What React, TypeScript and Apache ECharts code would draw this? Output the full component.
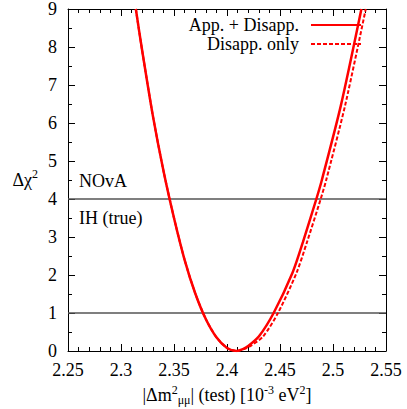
import React, { useEffect, useRef } from "react";
import * as echarts from "echarts";

// Data
const appX = [2.314, 2.32, 2.33, 2.34, 2.35, 2.36, 2.37, 2.38, 2.39, 2.4, 2.409, 2.415, 2.42, 2.43, 2.444, 2.4617, 2.4717, 2.4843, 2.4895, 2.5075, 2.5268];
const appY = [9.0, 7.9, 6.2, 4.75, 3.5, 2.4, 1.52, 0.84, 0.36, 0.08, 0.0, 0.05, 0.13, 0.38, 1.0, 2.05, 2.87, 4.0, 4.5, 6.47, 9.0];
const disX = [2.314, 2.32, 2.33, 2.34, 2.35, 2.36, 2.37, 2.38, 2.39, 2.4, 2.409, 2.416, 2.422, 2.434, 2.4481, 2.4655, 2.4755, 2.4884, 2.4936, 2.5115, 2.5309];
const disY = [9.0, 7.9, 6.2, 4.75, 3.5, 2.4, 1.52, 0.84, 0.36, 0.08, 0.0, 0.05, 0.13, 0.38, 1.0, 2.05, 2.87, 4.0, 4.5, 6.47, 9.0];
const refLines = [1, 4];
const seriesNames = ["App. + Disapp.", "Disapp. only"];
const xRange = [2.25, 2.55];
const yRange = [0, 9];
const annotations = ["NOvA", "IH (true)"];

const FONT = "Liberation Serif";

export default function App() {
  const ref = useRef<HTMLDivElement>(null);
  useEffect(() => {
    document.body.style.margin = "0";
    if (!ref.current) return;
    const chart = echarts.init(ref.current, null, { renderer: "svg" });
    const rich = {
      sup: { fontSize: 12, lineHeight: 10, verticalAlign: "top", fontFamily: FONT, color: "#000" },
      sub: { fontSize: 12, lineHeight: 10, verticalAlign: "bottom", fontFamily: FONT, color: "#000" },
    };
    const axisCommon = {
      type: "value",
      axisLine: { show: true, onZero: false, lineStyle: { color: "#000", width: 1 } },
      axisTick: { show: true, inside: true, length: 7, lineStyle: { color: "#000", width: 1 } },
      splitLine: { show: false },
    };
    const xFmt = (v: number) => String(+v.toFixed(2));
    const legendCommon = {
      right: 45,
      padding: 0,
      align: "right",
      itemWidth: 50,
      itemHeight: 14,
      itemStyle: { opacity: 0 },
      textStyle: { fontSize: 18, lineHeight: 16, color: "#000", fontFamily: FONT, padding: [0, 7, 0, 0] },
    };
    const option: any = {
      animation: false,
      textStyle: { fontFamily: FONT },
      grid: { left: 68, right: 21, top: 9, bottom: 58, containLabel: false, outerBoundsMode: "none" },
      xAxis: [
        {
          ...axisCommon,
          position: "bottom",
          min: xRange[0],
          max: xRange[1],
          interval: 0.05,
          minorTick: { show: true, splitNumber: 5, length: 4, lineStyle: { color: "#000" } },
          axisLabel: { color: "#000", fontSize: 18, margin: 10, fontFamily: FONT, formatter: xFmt },
          name: "|Δm{sup|2}{sub|μμ}| (test) [10{sup|-3} eV{sup|2}]",
          nameLocation: "middle",
          nameGap: 32,
          nameTextStyle: { color: "#000", fontSize: 18, fontFamily: FONT, lineHeight: 22, rich },
        },
        {
          ...axisCommon,
          position: "top",
          min: xRange[0],
          max: xRange[1],
          interval: 0.05,
          minorTick: { show: true, splitNumber: 5, length: 4, lineStyle: { color: "#000" } },
          axisLabel: { show: false },
        },
      ],
      yAxis: [
        {
          ...axisCommon,
          position: "left",
          min: yRange[0],
          max: yRange[1],
          interval: 1,
          minorTick: { show: true, splitNumber: 2, length: 4, lineStyle: { color: "#000" } },
          axisLabel: { color: "#000", fontSize: 18, margin: 11, fontFamily: FONT },
          name: "Δχ{sup|2}",
          nameLocation: "middle",
          nameRotate: 0,
          nameGap: 30,
          nameTextStyle: { color: "#000", fontSize: 18, fontFamily: FONT, lineHeight: 24, rich },
        },
        {
          ...axisCommon,
          position: "right",
          min: yRange[0],
          max: yRange[1],
          interval: 1,
          minorTick: { show: true, splitNumber: 2, length: 4, lineStyle: { color: "#000" } },
          axisLabel: { show: false },
        },
      ],
      legend: [
        { ...legendCommon, data: [seriesNames[0]], top: 16 },
        { ...legendCommon, data: [seriesNames[1]], top: 35 },
      ],
      graphic: [
        { type: "text", left: 79, top: 172, style: { text: annotations[0], font: `18px "${FONT}"`, fill: "#000" } },
        { type: "text", left: 79, top: 209, style: { text: annotations[1], font: `18px "${FONT}"`, fill: "#000" } },
      ],
      series: [
        {
          type: "line",
          name: seriesNames[0],
          data: appX.map((x, i) => [x, appY[i]]),
          symbol: "none",
          showSymbol: false,
          smooth: 0.25,
          clip: true,
          lineStyle: { color: "#ff0000", width: 2.5 },
          itemStyle: { color: "#ff0000" },
          z: 3,
          markLine: {
            silent: true,
            symbol: "none",
            label: { show: false },
            lineStyle: { color: "#555", type: "solid", width: 1.5 },
            data: refLines.map((v) => ({ yAxis: v })),
            z: 1,
          },
        },
        {
          type: "line",
          name: seriesNames[1],
          data: disX.map((x, i) => [x, disY[i]]),
          symbol: "none",
          showSymbol: false,
          smooth: 0.25,
          clip: true,
          lineStyle: { color: "#ff0000", width: 2, type: [4, 2] },
          itemStyle: { color: "#ff0000" },
          z: 2,
        },
      ],
    };
    chart.setOption(option);
    return () => chart.dispose();
  }, []);
  return <div ref={ref} style={{ width: 407, height: 409, background: "#fff" }} />;
}
